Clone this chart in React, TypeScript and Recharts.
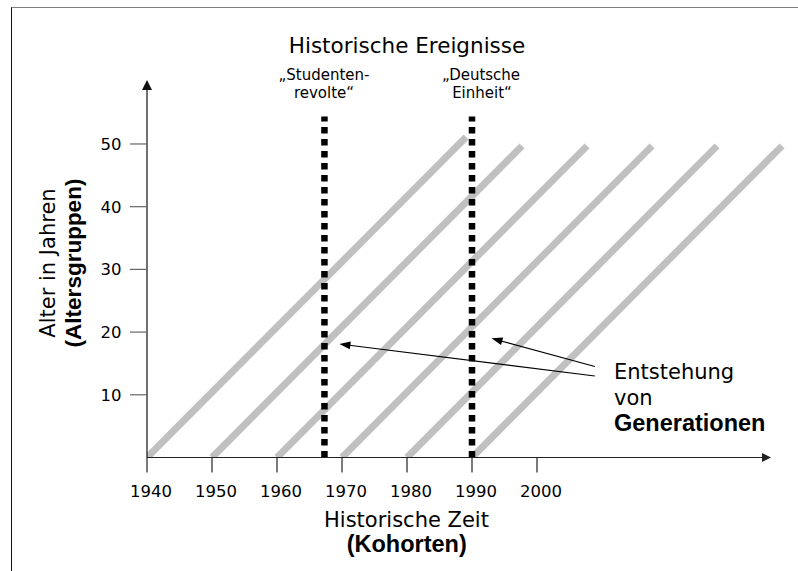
import React from 'react';
import { ComposedChart, Line, XAxis, YAxis, ReferenceLine, Customized } from 'recharts';

// Cohort lines (Generationen): start year at age 0, end year / end age
const cohortStartYears = [1940, 1950, 1960, 1970, 1980, 1990];
const cohortEndYears = [1989.1, 1997.7, 2007.7, 2017.7, 2027.7, 2037.7];
const cohortEndAges = [51.1, 49.7, 49.7, 49.7, 49.7, 49.7];

// Axis ticks
const xTicks = [1940, 1950, 1960, 1970, 1980, 1990, 2000];
const yTicks = [10, 20, 30, 40, 50];

// Historical events (dotted verticals)
const eventYears = [1967.3, 1990];
const eventTopAge = 54.4;
const eventLabels = [
  ['„Studenten-', 'revolte“'],
  ['„Deutsche', 'Einheit“'],
];

// Annotation arrows from "Entstehung von Generationen"
const arrowTails = [
  { x: 2008.9, y: 13.0 },
  { x: 2008.9, y: 14.5 },
];
const arrowTips = [
  { x: 1969.6, y: 18.1 },
  { x: 1993.0, y: 19.0 },
];

// Axis arrow ends
const xAxisEnd = 2036;
const yAxisEnd = 60.2;

const cohortSeries = cohortStartYears.map((s, i) => [
  { x: s, y: 0 },
  { x: cohortEndYears[i], y: cohortEndAges[i] },
]);

const REG = 'DejaVu Sans';
const BOLD = 'Liberation Sans';

function arrowShape(headLen: number, headHalf: number, color: string, width: number) {
  return (props: any) => {
    const { x1, y1, x2, y2 } = props;
    const dx = x2 - x1;
    const dy = y2 - y1;
    const len = Math.hypot(dx, dy) || 1;
    const ux = dx / len;
    const uy = dy / len;
    const bx = x2 - ux * headLen;
    const by = y2 - uy * headLen;
    const px = -uy * headHalf;
    const py = ux * headHalf;
    return (
      <g>
        <line x1={x1} y1={y1} x2={bx + ux * 1} y2={by + uy * 1} stroke={color} strokeWidth={width} />
        <polygon points={`${x2},${y2} ${bx + px},${by + py} ${bx - px},${by - py}`} fill={color} />
      </g>
    );
  };
}

function Overlay() {
  return (
    <g>
      <text x={407} y={53} textAnchor="middle" fontFamily={REG} fontSize={21.5} fill="#000">
        Historische Ereignisse
      </text>
      <text x={324} y={80} textAnchor="middle" fontFamily={REG} fontSize={15} fill="#000">
        {eventLabels[0][0]}
      </text>
      <text x={324} y={98} textAnchor="middle" fontFamily={REG} fontSize={15} fill="#000">
        {eventLabels[0][1]}
      </text>
      <text x={481} y={80} textAnchor="middle" fontFamily={REG} fontSize={15} fill="#000">
        {eventLabels[1][0]}
      </text>
      <text x={482} y={98} textAnchor="middle" fontFamily={REG} fontSize={15} fill="#000">
        {eventLabels[1][1]}
      </text>
      <text x={614} y={379} fontFamily={REG} fontSize={21} fill="#000">Entstehung</text>
      <text x={614} y={405} fontFamily={REG} fontSize={21} fill="#000">von</text>
      <text x={614} y={431} fontFamily={BOLD} fontWeight="bold" fontSize={23.5} fill="#000">Generationen</text>
      <text x={406.5} y={527} textAnchor="middle" fontFamily={REG} fontSize={21} fill="#000">
        Historische Zeit
      </text>
      <text x={406.7} y={552} textAnchor="middle" fontFamily={BOLD} fontWeight="bold" fontSize={23.5} fill="#000">
        (Kohorten)
      </text>
      <text x={55} y={263} transform="rotate(-90 55 263)" textAnchor="middle" fontFamily={REG} fontSize={21} fill="#000">
        Alter in Jahren
      </text>
      <text x={81} y={263} transform="rotate(-90 81 263)" textAnchor="middle" fontFamily={BOLD} fontWeight="bold" fontSize={22.5} fill="#000">
        (Altersgruppen)
      </text>
    </g>
  );
}

export default function App() {
  return (
    <div style={{ position: 'absolute', left: 0, top: 0, width: 798, height: 571, background: '#fff' }}>
      <div
        style={{
          position: 'absolute',
          left: 11,
          top: 7,
          width: 787,
          height: 564,
          borderTop: '1.7px solid #808080',
          borderLeft: '1px solid #111',
          boxSizing: 'border-box',
        }}
      />
      <div style={{ position: 'absolute', left: 0, top: 0 }}>
        <ComposedChart width={798} height={571} margin={{ top: 75, right: 1, bottom: 0, left: 0 }}>
          <XAxis
            type="number"
            dataKey="x"
            domain={[1940, 2040]}
            ticks={xTicks}
            height={113.5}
            axisLine={false}
            tickLine={{ stroke: '#222', strokeWidth: 1.2 }}
            tickSize={15}
            tickMargin={13}
            tick={{ fontFamily: REG, fontSize: 16.5, fill: '#000', dx: 4 }}
            interval={0}
            allowDataOverflow
          />
          <YAxis
            type="number"
            dataKey="y"
            domain={[0, 61]}
            ticks={yTicks}
            width={147}
            axisLine={false}
            tickLine={{ stroke: '#666', strokeWidth: 1.2 }}
            tickSize={17}
            tickMargin={8.5}
            tick={{ fontFamily: REG, fontSize: 16.5, fill: '#000' }}
            interval={0}
            allowDataOverflow
          />
          {cohortSeries.map((d, i) => (
            <Line
              key={`c${i}`}
              data={d}
              dataKey="y"
              type="linear"
              stroke="#c0c0c0"
              strokeWidth={7}
              strokeLinecap="butt"
              dot={false}
              activeDot={false}
              isAnimationActive={false}
            />
          ))}
          {eventYears.map((yr, i) => (
            <ReferenceLine
              key={`e${i}`}
              segment={[
                { x: yr, y: 0 },
                { x: yr, y: eventTopAge },
              ]}
              stroke="#000"
              strokeWidth={6.5}
              strokeDasharray="6.5 5.5"
              ifOverflow="visible"
            />
          ))}
          <ReferenceLine
            segment={[
              { x: 1940, y: 0 },
              { x: xAxisEnd, y: 0 },
            ]}
            ifOverflow="visible"
            shape={arrowShape(9, 4.5, '#222', 1.2)}
          />
          <ReferenceLine
            segment={[
              { x: 1940, y: 0 },
              { x: 1940, y: yAxisEnd },
            ]}
            ifOverflow="visible"
            shape={arrowShape(10, 5, '#111', 1.2)}
          />
          {arrowTails.map((t, i) => (
            <ReferenceLine
              key={`a${i}`}
              segment={[t, arrowTips[i]]}
              ifOverflow="visible"
              shape={arrowShape(11, 4, '#000', 1.1)}
            />
          ))}
          <Customized component={Overlay} />
        </ComposedChart>
      </div>
    </div>
  );
}
